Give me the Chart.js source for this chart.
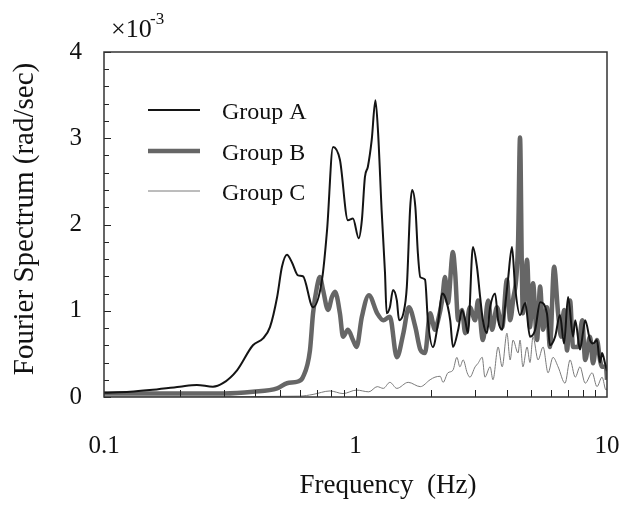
<!DOCTYPE html>
<html>
<head>
<meta charset="utf-8">
<script src="https://cdn.jsdelivr.net/npm/chart.js@4/dist/chart.umd.min.js"></script>
<style>
  html, body { margin: 0; padding: 0; background: #fff; }
  #wrap { width: 621px; height: 510px; }
</style>
</head>
<body>
<div id="wrap"><canvas id="spectrumChart"></canvas></div>
<script>
// frequency (Hz) and amplitude (x10^-3 rad/sec)
const freqA = [0.1, 0.127, 0.152, 0.2, 0.234, 0.271, 0.297, 0.338, 0.391, 0.429, 0.457, 0.488, 0.51, 0.534, 0.559, 0.591, 0.618, 0.678, 0.736, 0.771, 0.814, 0.867, 0.933, 0.977, 1.03, 1.06, 1.09, 1.12, 1.16, 1.2, 1.23, 1.27, 1.31, 1.33, 1.37, 1.41, 1.46, 1.49, 1.55, 1.6, 1.65, 1.68, 1.73, 1.77, 1.81, 1.89, 1.94, 2.03, 2.13, 2.21, 2.27, 2.38, 2.44, 2.56, 2.65, 2.73, 2.8, 2.93, 3.04, 3.13, 3.21, 3.33, 3.43, 3.59, 3.69, 3.83, 3.93, 4.04, 4.19, 4.31, 4.51, 4.73, 4.94, 5.18, 5.42, 5.77, 5.93, 6.22, 6.5, 6.75, 7.0, 7.33, 7.48, 7.81, 8.03, 8.19, 8.56, 8.8, 9.12, 9.38, 9.56, 9.82, 10];
const groupA = [0.05, 0.06, 0.08, 0.12, 0.14, 0.12, 0.16, 0.31, 0.6, 0.68, 0.81, 1.16, 1.51, 1.65, 1.56, 1.41, 1.4, 1.04, 1.36, 1.94, 2.9, 2.75, 2.05, 2.07, 1.84, 2.05, 2.55, 2.67, 2.98, 3.44, 3.06, 2.17, 1.44, 0.97, 1.04, 1.24, 1.12, 0.89, 0.97, 1.28, 2.2, 2.4, 2.2, 1.67, 1.39, 1.36, 0.89, 0.58, 0.86, 1.2, 1.16, 0.89, 0.58, 0.78, 1.01, 0.89, 0.74, 1.74, 1.51, 1.16, 0.89, 0.74, 1.04, 1.2, 0.89, 0.78, 1.04, 1.36, 1.74, 1.28, 0.95, 1.09, 0.7, 0.78, 1.1, 0.97, 0.6, 0.7, 0.95, 0.62, 1.16, 0.7, 0.89, 0.55, 0.75, 0.89, 0.66, 0.62, 0.66, 0.4, 0.51, 0.39, 0.3];

const freqB = [0.1, 0.2, 0.3, 0.391, 0.488, 0.534, 0.591, 0.618, 0.659, 0.678, 0.703, 0.722, 0.743, 0.778, 0.806, 0.829, 0.867, 0.892, 0.933, 0.977, 1.01, 1.06, 1.13, 1.22, 1.29, 1.37, 1.46, 1.55, 1.63, 1.73, 1.81, 1.89, 1.98, 2.07, 2.13, 2.21, 2.27, 2.33, 2.44, 2.49, 2.56, 2.65, 2.73, 2.85, 2.99, 3.07, 3.21, 3.37, 3.49, 3.65, 3.83, 4.0, 4.12, 4.23, 4.43, 4.51, 4.59, 4.63, 4.81, 4.94, 5.08, 5.27, 5.42, 5.57, 5.77, 5.93, 6.16, 6.39, 6.57, 6.75, 6.94, 7.13, 7.33, 7.69, 7.97, 8.19, 8.56, 8.8, 9.12, 9.38, 9.56, 9.91, 10];
const groupB = [0.04, 0.04, 0.04, 0.06, 0.1, 0.16, 0.18, 0.23, 0.54, 0.97, 1.28, 1.39, 1.24, 1.01, 1.16, 1.22, 0.97, 0.7, 0.78, 0.66, 0.58, 0.93, 1.18, 0.97, 0.89, 0.93, 0.46, 0.74, 1.04, 0.81, 0.55, 0.51, 0.97, 0.78, 0.89, 1.12, 1.39, 1.09, 1.68, 1.44, 0.89, 1.01, 0.74, 1.04, 0.89, 1.12, 0.66, 1.12, 0.78, 1.04, 0.81, 1.36, 0.89, 1.12, 1.79, 3.01, 1.4, 0.97, 1.59, 0.81, 1.32, 0.66, 1.28, 0.78, 1.04, 0.58, 1.51, 0.97, 0.7, 1.01, 0.54, 1.12, 0.58, 0.58, 0.89, 0.43, 0.7, 0.39, 0.66, 0.43, 0.35, 0.35, 0.2];

const freqC = [0.1, 0.6, 0.678, 0.792, 0.892, 1.01, 1.13, 1.22, 1.29, 1.37, 1.46, 1.62, 1.81, 1.98, 2.07, 2.17, 2.23, 2.33, 2.44, 2.53, 2.6, 2.68, 2.78, 2.85, 2.99, 3.07, 3.19, 3.27, 3.43, 3.52, 3.69, 3.83, 4.0, 4.12, 4.23, 4.43, 4.51, 4.63, 4.81, 4.94, 5.08, 5.32, 5.57, 5.83, 6.1, 6.39, 6.81, 7.13, 7.48, 7.81, 8.19, 8.73, 9.12, 9.56, 9.91, 10];
const groupC = [0.0, 0.01, 0.03, 0.07, 0.04, 0.08, 0.06, 0.12, 0.1, 0.17, 0.1, 0.17, 0.12, 0.2, 0.23, 0.24, 0.17, 0.28, 0.31, 0.46, 0.35, 0.43, 0.28, 0.23, 0.35, 0.39, 0.46, 0.23, 0.35, 0.2, 0.58, 0.35, 0.74, 0.43, 0.66, 0.51, 0.66, 0.35, 0.58, 0.4, 0.7, 0.43, 0.58, 0.28, 0.46, 0.35, 0.16, 0.43, 0.23, 0.35, 0.16, 0.28, 0.12, 0.23, 0.08, 0.1];

const seriesNames = ['Group A', 'Group B', 'Group C'];
const xTickLabels = [0.1, 1, 10];
const yTickLabels = [0, 1, 2, 3, 4];

const serif = '"Liberation Serif", "DejaVu Serif", serif';

function toPoints(xs, ys) {
    return xs.map((x, i) => ({ x: x, y: ys[i] }));
}

// frame, inward ticks, x labels, legend and axis titles
const decorPlugin = {
    id: 'decor',
    afterDatasetsDraw(chart) {
        const ctx = chart.ctx;
        const a = chart.chartArea;
        const xs = chart.scales.x;
        const ys = chart.scales.y;
        ctx.save();

        // inward ticks
        ctx.strokeStyle = '#222';
        ctx.lineWidth = 1;
        ctx.beginPath();
        for (let v = 0; v <= 4.001; v += 0.2) {
            const py = Math.round(ys.getPixelForValue(v)) + 0.5;
            const major = Math.abs(v - Math.round(v)) < 0.01;
            ctx.moveTo(a.left, py);
            ctx.lineTo(a.left + (major ? 7 : 5), py);
        }
        for (let d = 0.1; d < 10; d *= 10) {
            for (let k = 1; k <= 10; k++) {
                const f = d * k;
                if (f <= 0.1 || f >= 10) continue;
                const px = Math.round(xs.getPixelForValue(f)) + 0.5;
                const major = k === 1 || k === 10;
                ctx.moveTo(px, a.bottom);
                ctx.lineTo(px, a.bottom - (major ? 9 : 7));
            }
        }
        ctx.stroke();

        // frame
        ctx.strokeStyle = '#333';
        ctx.lineWidth = 1.5;
        ctx.strokeRect(a.left, a.top, a.right - a.left, a.bottom - a.top);

        // x tick labels
        ctx.fillStyle = '#111';
        ctx.font = '25px ' + serif;
        ctx.textAlign = 'center';
        ctx.textBaseline = 'middle';
        xTickLabels.forEach(v => {
            ctx.fillText(String(v), xs.getPixelForValue(v), a.bottom + 49);
        });

        // legend inside plot
        const rows = [a.top + 58, a.top + 99, a.top + 139];
        chart.data.datasets.forEach((ds, i) => {
            ctx.strokeStyle = ds.borderColor;
            ctx.lineWidth = ds.borderWidth;
            ctx.beginPath();
            ctx.moveTo(a.left + 44, rows[i]);
            ctx.lineTo(a.left + 96, rows[i]);
            ctx.stroke();
            ctx.fillStyle = '#111';
            ctx.font = '24px ' + serif;
            ctx.textAlign = 'left';
            ctx.textBaseline = 'middle';
            ctx.fillText(ds.label, a.left + 118, rows[i] + 3);
        });

        // multiplier
        ctx.fillStyle = '#111';
        ctx.textAlign = 'left';
        ctx.textBaseline = 'alphabetic';
        ctx.font = '26px ' + serif;
        ctx.fillText('\u00d710', 111, 37);
        ctx.font = '17px ' + serif;
        ctx.fillText('-3', 150, 24);

        // axis titles
        ctx.textAlign = 'center';
        ctx.font = '27px ' + serif;
        ctx.fillText('Frequency  (Hz)', 388, 493);
        ctx.font = '29px ' + serif;
        ctx.translate(33, 219);
        ctx.rotate(-Math.PI / 2);
        ctx.fillText('Fourier Spectrum (rad/sec)', 0, 0);
        ctx.restore();
    }
};

const ctx = document.getElementById('spectrumChart').getContext('2d');
const spectrumChart = new Chart(ctx, {
    type: 'line',
    data: {
        datasets: [
            {
                label: seriesNames[0],
                data: toPoints(freqA, groupA),
                borderColor: '#141414',
                borderWidth: 2,
                pointRadius: 0,
                cubicInterpolationMode: 'monotone',
                fill: false
            },
            {
                label: seriesNames[1],
                data: toPoints(freqB, groupB),
                borderColor: '#666666',
                borderWidth: 4.5,
                pointRadius: 0,
                cubicInterpolationMode: 'monotone',
                fill: false
            },
            {
                label: seriesNames[2],
                data: toPoints(freqC, groupC),
                borderColor: '#7a7a7a',
                borderWidth: 1,
                pointRadius: 0,
                cubicInterpolationMode: 'monotone',
                fill: false
            }
        ]
    },
    options: {
        responsive: true,
        maintainAspectRatio: false,
        animation: false,
        layout: { padding: { left: 0, right: 14, top: 52, bottom: 0 } },
        scales: {
            x: {
                type: 'logarithmic',
                min: 0.1,
                max: 10,
                afterFit: (s) => { s.height = 113; },
                grid: { display: false, drawTicks: false },
                border: { display: false },
                ticks: { display: false }
            },
            y: {
                min: 0,
                max: 4,
                afterFit: (s) => { s.width = 104; },
                afterBuildTicks: (s) => { s.ticks = yTickLabels.map(v => ({ value: v })); },
                grid: { display: false, drawTicks: false },
                border: { display: false },
                ticks: {
                    padding: 22,
                    color: '#111',
                    font: { family: serif, size: 25 }
                }
            }
        },
        plugins: {
            legend: { display: false },
            tooltip: { enabled: false }
        }
    },
    plugins: [decorPlugin]
});
</script>
</body>
</html>
